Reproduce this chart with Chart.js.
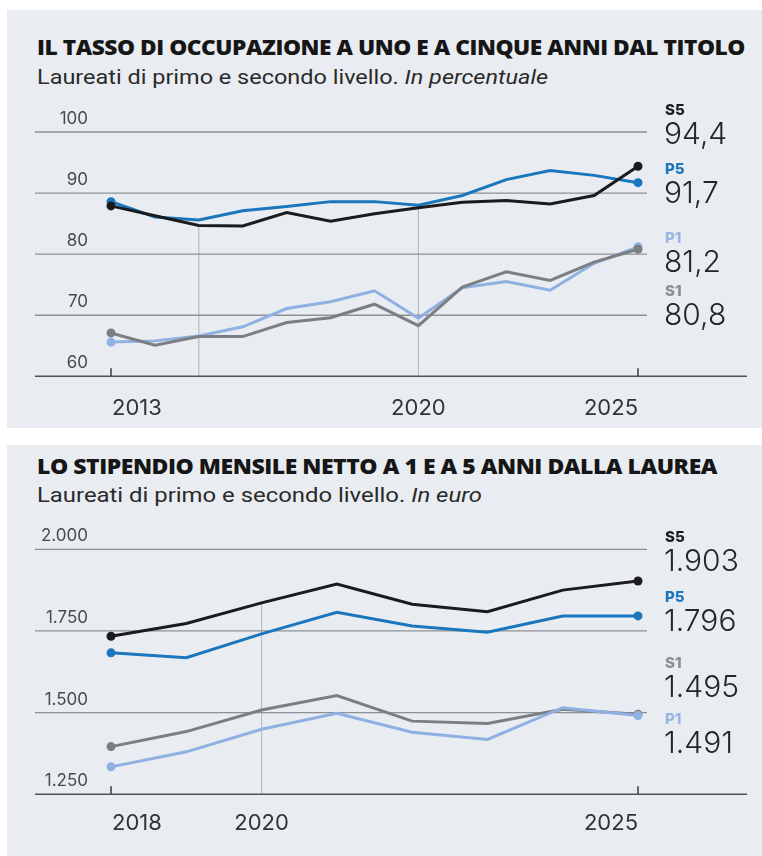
<!DOCTYPE html>
<html lang="it">
<head>
<meta charset="utf-8">
<script src="https://cdn.jsdelivr.net/npm/chart.js@4.4.1/dist/chart.umd.min.js"></script>
<style>
  html, body { margin: 0; padding: 0; background: #fff; }
  body { width: 762px; height: 856px; position: relative; overflow: hidden; }
  .panel { position: absolute; left: 7px; right: 0; background: #e9edf1; }
  .title, .sub { position: absolute; left: 37px; white-space: nowrap; line-height: 1; transform-origin: 0 50%; }
  .title { font-family: "Open Sans", Roboto, sans-serif; font-weight: 800; font-size: 20.5px; color: #161616; letter-spacing: -0.4px; }
  .sub { font-family: Roboto, "Open Sans", sans-serif; font-size: 20px; color: #2a2a2a; }
  canvas { position: absolute; left: 0; }
</style>
</head>
<body>
<div class="panel" style="top:10px;height:418px"></div>
<div class="panel" style="top:445px;height:411px"></div>

<div class="title" id="t1" data-w="708" style="top:37px">IL TASSO DI OCCUPAZIONE A UNO E A CINQUE ANNI DAL TITOLO</div>
<div class="sub" id="s1" data-w="511" style="top:67px">Laureati di primo e secondo livello. <i>In percentuale</i></div>
<div class="title" id="t2" data-w="680" style="top:456px">LO STIPENDIO MENSILE NETTO A 1 E A 5 ANNI DALLA LAUREA</div>
<div class="sub" id="s2" data-w="445" style="top:485px">Laureati di primo e secondo livello. <i>In euro</i></div>

<canvas id="occ" width="762" height="418" style="top:10px"></canvas>
<canvas id="sal" width="762" height="411" style="top:445px"></canvas>

<script>
// --- occupazione (%) ---
const occYears = [2013, 2014, 2015, 2016, 2017, 2018, 2019, 2020, 2021, 2022, 2023, 2024, 2025];
const occS5 = [87.9, 86.3, 84.7, 84.6, 86.8, 85.4, 86.6, 87.6, 88.5, 88.8, 88.2, 89.6, 94.4];
const occP5 = [88.6, 86.1, 85.6, 87.1, 87.8, 88.6, 88.6, 88.0, 89.6, 92.2, 93.7, 92.9, 91.7];
const occP1 = [65.6, 65.8, 66.6, 68.1, 71.1, 72.2, 74.0, 69.5, 74.5, 75.5, 74.1, 78.5, 81.2];
const occS1 = [67.1, 65.1, 66.5, 66.5, 68.8, 69.6, 71.8, 68.3, 74.6, 77.1, 75.7, 78.7, 80.8];
const occYTicks = [60, 70, 80, 90, 100];
const occXLabels = [2013, 2020, 2025];
const occDropYears = [2015, 2020];

// --- stipendio (euro) ---
const salYears = [2018, 2019, 2020, 2021, 2022, 2023, 2024, 2025];
const salS5 = [1734, 1773, 1836, 1894, 1832, 1809, 1875, 1903];
const salP5 = [1683, 1668, 1741, 1807, 1765, 1746, 1796, 1796];
const salS1 = [1396, 1442, 1508, 1552, 1474, 1467, 1510, 1495];
const salP1 = [1334, 1380, 1449, 1498, 1440, 1418, 1515, 1491];
const salYTicks = [1250, 1500, 1750, 2000];
const salXLabels = [2018, 2020, 2025];
const salDropYears = [2020];

const COLORS = { S5: '#1b1b1b', P5: '#1a76bd', P1: '#8fb0e2', S1: '#7b7f84' };
const NAME_COLORS = { S5: '#1b1b1b', P5: '#1a76bd', P1: '#9ab6e2', S1: '#8b8f94' };
const NUM_FONT = 'Inter, "Open Sans", sans-serif';

function fmtThousands(v) {
    return String(Math.round(v)).replace(/\B(?=(\d{3})+(?!\d))/g, '.');
}
function fmtDecimal(v) {
    return v.toFixed(1).replace('.', ',');
}

// stretch headlines to the measured widths
document.querySelectorAll('.title, .sub').forEach((el) => {
    const target = Number(el.dataset.w);
    const w = el.getBoundingClientRect().width;
    el.style.transform = 'scaleX(' + (target / w).toFixed(4) + ')';
});

const framePlugin = {
    id: 'frame',
    beforeDatasetsDraw(chart, args, opts) {
        const { ctx } = chart;
        const xs = chart.scales.x;
        const ys = chart.scales.y;
        const base = ys.getPixelForValue(opts.yTicks[0]);
        ctx.save();
        // drop lines
        ctx.strokeStyle = '#b9bdc1';
        ctx.lineWidth = 1.2;
        opts.dropYears.forEach((yr) => {
            const i = opts.years.indexOf(yr);
            const x = xs.getPixelForValue(yr);
            ctx.beginPath();
            ctx.moveTo(x, ys.getPixelForValue(opts.topSeries[i]));
            ctx.lineTo(x, base);
            ctx.stroke();
        });
        // horizontal gridlines
        opts.yTicks.forEach((t, k) => {
            const y = ys.getPixelForValue(t);
            ctx.beginPath();
            if (k === 0) {
                ctx.strokeStyle = '#4f5256';
                ctx.lineWidth = 1.6;
                ctx.moveTo(35, y);
                ctx.lineTo(747, y);
            } else {
                ctx.strokeStyle = '#8d9094';
                ctx.lineWidth = 1.3;
                ctx.moveTo(35, y);
                ctx.lineTo(647, y);
            }
            ctx.stroke();
            ctx.fillStyle = '#4a4a4a';
            ctx.font = '17px ' + NUM_FONT;
            ctx.textAlign = 'right';
            ctx.textBaseline = 'middle';
            ctx.fillText(opts.fmtTick(t), 88, y - 13);
        });
        // end ticks
        ctx.strokeStyle = '#3a3a3a';
        ctx.lineWidth = 1.5;
        [opts.years[0], opts.years[opts.years.length - 1]].forEach((yr) => {
            const x = xs.getPixelForValue(yr);
            ctx.beginPath();
            ctx.moveTo(x, base);
            ctx.lineTo(x, base - 8);
            ctx.stroke();
        });
        // x labels
        ctx.fillStyle = '#333';
        ctx.font = '22px ' + NUM_FONT;
        ctx.textBaseline = 'middle';
        opts.xLabels.forEach((yr, k) => {
            ctx.textAlign = k === 0 ? 'left' : (k === opts.xLabels.length - 1 ? 'right' : 'center');
            ctx.fillText(String(yr), xs.getPixelForValue(yr) + (k === 0 ? 1 : 0), base + opts.xLabelGap);
        });
        ctx.restore();
    },
    afterDatasetsDraw(chart, args, opts) {
        const { ctx } = chart;
        ctx.save();
        ctx.textAlign = 'left';
        ctx.textBaseline = 'middle';
        opts.order.forEach((key, k) => {
            const ds = chart.data.datasets.find((d) => d.label === key);
            const last = ds.data[ds.data.length - 1].y;
            const y = opts.slots[k];
            ctx.fillStyle = NAME_COLORS[key];
            ctx.font = '800 15px ' + NUM_FONT;
            ctx.fillText(key, 665, y);
            ctx.fillStyle = '#262626';
            ctx.font = '300 30px ' + NUM_FONT;
            ctx.fillText(opts.fmtValue(last), 664, y + 25);
        });
        ctx.restore();
    }
};

function makeSeries(label, years, values) {
    const n = values.length;
    return {
        label,
        data: years.map((yr, i) => ({ x: yr, y: values[i] })),
        borderColor: COLORS[label],
        backgroundColor: COLORS[label],
        borderWidth: 3,
        tension: 0,
        clip: false,
        pointRadius: (c) => (c.dataIndex === 0 || c.dataIndex === n - 1 ? 4.5 : 0),
        pointBorderWidth: 0,
        pointHoverRadius: 0
    };
}

function makeChart(id, cfg) {
    return new Chart(document.getElementById(id), {
        type: 'line',
        data: { datasets: cfg.series },
        options: {
            responsive: false,
            animation: false,
            devicePixelRatio: 1,
            events: [],
            layout: { padding: cfg.padding },
            plugins: {
                legend: { display: false },
                tooltip: { enabled: false },
                frame: cfg.frame
            },
            scales: {
                x: { type: 'linear', min: cfg.years[0], max: cfg.years[cfg.years.length - 1], display: false },
                y: { min: cfg.yTicks[0], max: cfg.yTicks[cfg.yTicks.length - 1], display: false }
            }
        },
        plugins: [framePlugin]
    });
}

makeChart('occ', {
    years: occYears,
    yTicks: occYTicks,
    padding: { left: 111, right: 124, top: 122, bottom: 51.7 },
    series: [
        makeSeries('S1', occYears, occS1),
        makeSeries('P1', occYears, occP1),
        makeSeries('S5', occYears, occS5),
        makeSeries('P5', occYears, occP5)
    ],
    frame: {
        years: occYears,
        yTicks: occYTicks,
        xLabels: occXLabels,
        dropYears: occDropYears,
        topSeries: occS5,
        xLabelGap: 32,
        fmtTick: (t) => String(t),
        fmtValue: fmtDecimal,
        order: ['S5', 'P5', 'P1', 'S1'],
        slots: [100, 159, 228, 281]
    }
});

makeChart('sal', {
    years: salYears,
    yTicks: salYTicks,
    padding: { left: 111, right: 124, top: 104.3, bottom: 61.7 },
    series: [
        makeSeries('P1', salYears, salP1),
        makeSeries('S1', salYears, salS1),
        makeSeries('P5', salYears, salP5),
        makeSeries('S5', salYears, salS5)
    ],
    frame: {
        years: salYears,
        yTicks: salYTicks,
        xLabels: salXLabels,
        dropYears: salDropYears,
        topSeries: salS5,
        xLabelGap: 29,
        fmtTick: fmtThousands,
        fmtValue: fmtThousands,
        order: ['S5', 'P5', 'S1', 'P1'],
        slots: [92, 152, 218, 274]
    }
});
</script>
</body>
</html>
